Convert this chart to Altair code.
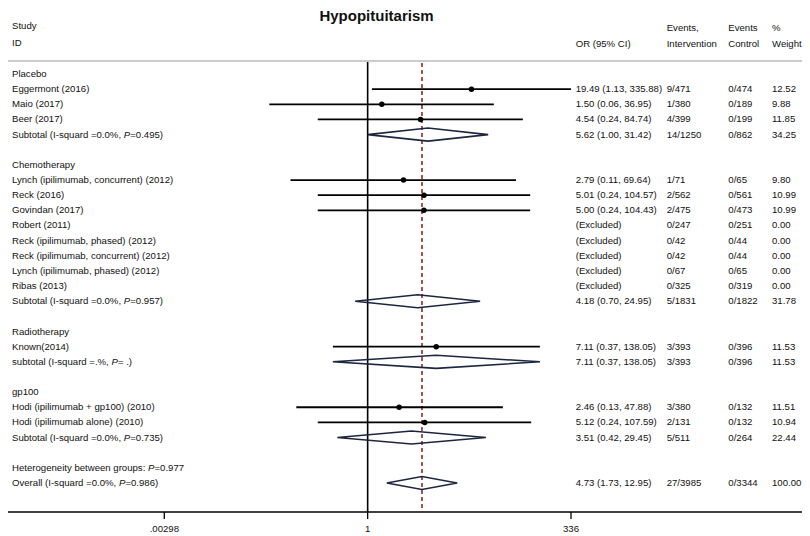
import altair as alt
import pandas as pd

# ---------------- data ----------------
labels = [
    "Placebo", "Eggermont (2016)", "Maio (2017)", "Beer (2017)",
    "Subtotal (I-squard =0.0%, P=0.495)", "",
    "Chemotherapy", "Lynch (ipilimumab, concurrent) (2012)", "Reck (2016)", "Govindan (2017)",
    "Robert (2011)", "Reck (ipilimumab, phased) (2012)", "Reck (ipilimumab, concurrent) (2012)",
    "Lynch (ipilimumab, phased) (2012)", "Ribas (2013)",
    "Subtotal (I-squard =0.0%, P=0.957)", "",
    "Radiotherapy", "Known(2014)", "subtotal (I-squard =.%, P= .)", "",
    "gp100", "Hodi (ipilimumab + gp100) (2010)", "Hodi (ipilimumab alone) (2010)",
    "Subtotal (I-squard =0.0%, P=0.735)", "",
    "Heterogeneity between groups: P=0.977",
    "Overall (I-squard =0.0%, P=0.986)",
]
kinds = ["group", "study", "study", "study", "sub", "blank",
         "group", "study", "study", "study", "excl", "excl", "excl", "excl", "excl", "sub", "blank",
         "group", "study", "sub", "blank",
         "group", "study", "study", "sub", "blank",
         "het", "sub"]
est = [None, 19.49, 1.50, 4.54, 5.62, None,
       None, 2.79, 5.01, 5.00, None, None, None, None, None, 4.18, None,
       None, 7.11, 7.11, None,
       None, 2.46, 5.12, 3.51, None,
       None, 4.73]
lo = [None, 1.13, 0.06, 0.24, 1.00, None,
      None, 0.11, 0.24, 0.24, None, None, None, None, None, 0.70, None,
      None, 0.37, 0.37, None,
      None, 0.13, 0.24, 0.42, None,
      None, 1.73]
hi = [None, 335.88, 36.95, 84.74, 31.42, None,
      None, 69.64, 104.57, 104.43, None, None, None, None, None, 24.95, None,
      None, 138.05, 138.05, None,
      None, 47.88, 107.59, 29.45, None,
      None, 12.95]
or_text = ["", "19.49 (1.13, 335.88)", "1.50 (0.06, 36.95)", "4.54 (0.24, 84.74)", "5.62 (1.00, 31.42)", "",
           "", "2.79 (0.11, 69.64)", "5.01 (0.24, 104.57)", "5.00 (0.24, 104.43)",
           "(Excluded)", "(Excluded)", "(Excluded)", "(Excluded)", "(Excluded)", "4.18 (0.70, 24.95)", "",
           "", "7.11 (0.37, 138.05)", "7.11 (0.37, 138.05)", "",
           "", "2.46 (0.13, 47.88)", "5.12 (0.24, 107.59)", "3.51 (0.42, 29.45)", "",
           "", "4.73 (1.73, 12.95)"]
ev_int = ["", "9/471", "1/380", "4/399", "14/1250", "",
          "", "1/71", "2/562", "2/475", "0/247", "0/42", "0/42", "0/67", "0/325", "5/1831", "",
          "", "3/393", "3/393", "",
          "", "3/380", "2/131", "5/511", "",
          "", "27/3985"]
ev_ctrl = ["", "0/474", "0/189", "0/199", "0/862", "",
           "", "0/65", "0/561", "0/473", "0/251", "0/44", "0/44", "0/65", "0/319", "0/1822", "",
           "", "0/396", "0/396", "",
           "", "0/132", "0/132", "0/264", "",
           "", "0/3344"]
weights = ["", "12.52", "9.88", "11.85", "34.25", "",
           "", "9.80", "10.99", "10.99", "0.00", "0.00", "0.00", "0.00", "0.00", "31.78", "",
           "", "11.53", "11.53", "",
           "", "11.51", "10.94", "22.44", "",
           "", "100.00"]
overall_est = 4.73
tick_values = [1 / 336, 1, 336]
tick_labels = [".00298", "1", "336"]

# ---------------- layout helpers ----------------
FONT = "Liberation Sans"
FS = 9.6
W = {" ": 278, "(": 333, ")": 333, "-": 333, "=": 584, ".": 278, ",": 278, "%": 889, ":": 278,
     "+": 584, "/": 278}
for d in "0123456789":
    W[d] = 556
W.update(dict(a=556, b=556, c=500, d=556, e=556, f=278, g=556, h=556, i=222, j=222, k=500, l=222,
              m=833, n=556, o=556, p=556, q=556, r=333, s=500, t=278, u=556, v=500, w=722, x=500,
              y=500, z=500))
W.update(dict(A=667, B=667, C=722, D=722, E=667, F=611, G=778, H=722, I=278, J=500, K=667, L=556,
              M=833, N=722, O=778, P=667, Q=778, R=722, S=667, T=611, U=722, V=667, W=944, X=667,
              Y=667, Z=611))


def tw(s):
    return sum(W.get(c, 556) for c in s) * FS / 1000.0


LABEL_X = 4
rows = list(range(len(labels)))
df = pd.DataFrame(dict(row=rows, label=labels, kind=kinds, est=est, lo=lo, hi=hi,
                       ort=or_text, ei=ev_int, ec=ev_ctrl, wt=weights))

seg = []
for r, lab in zip(rows, labels):
    if not lab:
        continue
    if "P=" in lab:
        i = lab.index("P=")
        before, after = lab[:i], lab[i + 1:]
        seg.append(dict(row=r, t=before, x=LABEL_X, st="normal"))
        seg.append(dict(row=r, t="P", x=LABEL_X + tw(before), st="italic"))
        seg.append(dict(row=r, t=after, x=LABEL_X + tw(before) + tw("P"), st="normal"))
    else:
        seg.append(dict(row=r, t=lab, x=LABEL_X, st="normal"))
seg = pd.DataFrame(seg)

studies = df[df.kind == "study"]
subs = df[df.kind == "sub"]
H = 0.43
dia = []
for _, s in subs.iterrows():
    pts = [(s.lo, s.row), (s.est, s.row - H), (s.hi, s.row), (s.est, s.row + H), (s.lo, s.row)]
    for k, (vx, vy) in enumerate(pts):
        dia.append(dict(g=int(s.row), k=k, vx=vx, vy=vy))
dia = pd.DataFrame(dia)

xs = alt.Scale(type="log", domain=[1 / 336, 336], range=[156.3, 563])
ys = alt.Scale(domain=[0, 27], range=[66, 475])

# ---------------- layers ----------------
base_text = dict(font=FONT, fontSize=FS, align="left", baseline="middle", color="#111")

label_normal = alt.Chart(seg[seg.st == "normal"]).mark_text(**base_text).encode(
    x=alt.X("x:Q", scale=None, axis=None),
    y=alt.Y("row:Q", scale=ys, axis=None),
    text="t:N",
)
label_italic = alt.Chart(seg[seg.st == "italic"]).mark_text(fontStyle="italic", **base_text).encode(
    x=alt.X("x:Q", scale=None, axis=None),
    y=alt.Y("row:Q", scale=ys, axis=None),
    text="t:N",
)


def col(field, xpx):
    return alt.Chart(df).mark_text(**base_text).encode(
        x=alt.value(xpx), y=alt.Y("row:Q", scale=ys, axis=None), text=f"{field}:N")


ci = alt.Chart(studies).mark_rule(color="black", strokeWidth=1.8).encode(
    x=alt.X("lo:Q", scale=xs, axis=None), x2="hi:Q", y=alt.Y("row:Q", scale=ys, axis=None))
pts = alt.Chart(studies).mark_circle(color="black", opacity=1, size=30).encode(
    x=alt.X("est:Q", scale=xs, axis=None), y=alt.Y("row:Q", scale=ys, axis=None))
diamonds = alt.Chart(dia).mark_line(color="#1d2640", strokeWidth=1.6).encode(
    x=alt.X("vx:Q", scale=xs, axis=None), y=alt.Y("vy:Q", scale=ys, axis=None),
    detail="g:N", order="k:Q")

null_line = alt.Chart(pd.DataFrame(dict(v=[1]))).mark_rule(color="black", strokeWidth=1.6).encode(
    x=alt.X("v:Q", scale=xs, axis=None), y=alt.value(54), y2=alt.value(504))
est_line = alt.Chart(pd.DataFrame(dict(v=[overall_est]))).mark_rule(
    color="#8b1a1a", strokeWidth=1.5, strokeDash=[4, 3]).encode(
    x=alt.X("v:Q", scale=xs, axis=None), y=alt.value(55), y2=alt.value(504))

top_rule = alt.Chart(pd.DataFrame(dict(v=[0]))).mark_rule(color="#9a9a9a", strokeWidth=1.2).encode(
    x=alt.value(0), x2=alt.value(794), y=alt.value(53))
axis_rule = alt.Chart(pd.DataFrame(dict(v=[0]))).mark_rule(color="black", strokeWidth=1.3).encode(
    x=alt.value(0), x2=alt.value(794), y=alt.value(504))

ticks_df = pd.DataFrame(dict(v=tick_values, lab=tick_labels))
ticks = alt.Chart(ticks_df).mark_rule(color="black", strokeWidth=1.3).encode(
    x=alt.X("v:Q", scale=xs, axis=None), y=alt.value(504), y2=alt.value(511))
tick_text = alt.Chart(ticks_df).mark_text(font=FONT, fontSize=FS, align="center", baseline="middle",
                                          color="#111").encode(
    x=alt.X("v:Q", scale=xs, axis=None), y=alt.value(521), text="lab:N")

headers = []
for t, xpx, ypx in [("Study", 4, 18), ("ID", 4, 34.5), ("OR (95% CI)", 567.7, 36),
                    ("Events,", 658.7, 20), ("Intervention", 658.7, 36),
                    ("Events", 720.3, 20), ("Control", 720.3, 36),
                    ("%", 764, 20), ("Weight", 764, 36)]:
    headers.append(alt.Chart(pd.DataFrame(dict(t=[t]))).mark_text(**base_text).encode(
        x=alt.value(xpx), y=alt.value(ypx), text="t:N"))

title = alt.Chart(pd.DataFrame(dict(t=["Hypopituitarism"]))).mark_text(
    font=FONT, fontSize=15, fontWeight="bold", align="center", baseline="top",
    color="#111").encode(x=alt.value(368.5), y=alt.value(1), text="t:N")

chart = alt.layer(
    top_rule, axis_rule, null_line, est_line, ci, pts, diamonds, ticks, tick_text,
    label_normal, label_italic, col("ort", 567.7), col("ei", 658.7), col("ec", 720.3), col("wt", 764),
    title, *headers,
).properties(
    width=794, height=526, padding=0,
    autosize=alt.AutoSizeParams(type="none"),
).configure_view(stroke=None)

chart.save("out.html", embed_options={"renderer": "svg", "actions": False})
